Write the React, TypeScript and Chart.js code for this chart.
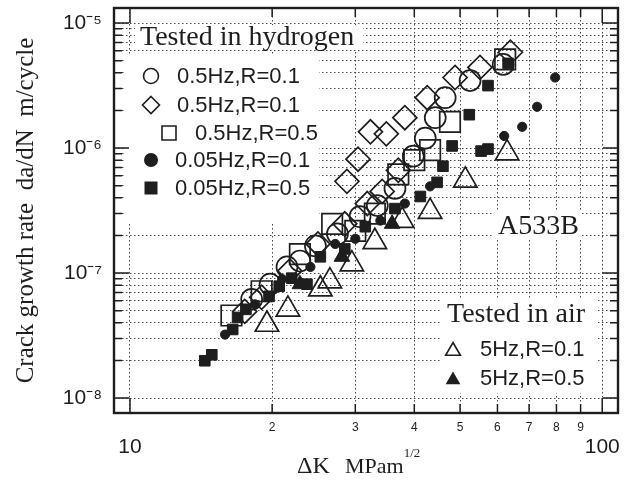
import React, { useEffect, useRef } from 'react';
import { Chart, registerables } from 'chart.js';

Chart.register(...registerables);

// ---------- data (ΔK in MPa·m^1/2, da/dN in m/cycle) ----------
// Tested in hydrogen
const h05R01CircleK = [18.1, 19.8, 21.5, 22.9, 24.7, 27.5, 30.7, 33.4, 36.4, 39.8, 42.2, 44.3, 46.5, 52.5, 61.7];
const h05R01CircleV = [6.17e-8, 8.15e-8, 1.12e-7, 1.25e-7, 1.65e-7, 2.06e-7, 2.83e-7, 3.47e-7, 4.76e-7, 8.62e-7, 1.2e-6, 1.75e-6, 2.53e-6, 3.47e-6, 4.67e-6];

const h05R01DiamondK = [17.5, 19.0, 21.8, 25.0, 28.5, 28.8, 30.4, 31.8, 32.3, 34.2, 34.9, 37.0, 38.2, 42.6, 48.8, 55.1, 63.9];
const h05R01DiamondV = [4.94e-8, 6.41e-8, 1.04e-7, 1.71e-7, 2.48e-7, 5.42e-7, 8.15e-7, 3.6e-7, 1.35e-6, 4.5e-7, 1.3e-6, 6.65e-7, 1.75e-6, 2.53e-6, 3.67e-6, 4.42e-6, 5.84e-6];

const h05R05SquareK = [16.4, 19.0, 22.9, 26.8, 30.0, 33.0, 37.0, 40.0, 43.2, 47.6, 62.3];
const h05R05SquareV = [4.58e-8, 7.16e-8, 1.42e-7, 2.48e-7, 2.18e-7, 2.99e-7, 6.17e-7, 8.0e-7, 9.63e-7, 1.62e-6, 5.12e-6];

const h005R01DotK = [15.9, 18.4, 21.0, 24.1, 27.2, 30.0, 33.9, 38.2, 43.2, 62.0, 67.7, 72.8, 79.5];
const h005R01DotV = [3.22e-8, 5.62e-8, 8.95e-8, 1.12e-7, 1.71e-7, 1.88e-7, 2.63e-7, 3.6e-7, 4.94e-7, 1.25e-6, 1.48e-6, 2.14e-6, 3.67e-6];

const h005R05BlockK = [14.4, 14.9, 16.5, 16.9, 17.6, 19.7, 20.7, 22.0, 23.7, 25.3, 28.5, 31.5, 36.4, 41.2, 44.7, 46.0, 48.1, 52.3, 55.4, 57.3, 57.3, 63.2];
const h005R05BlockV = [1.99e-8, 2.22e-8, 3.54e-8, 4.42e-8, 5.13e-8, 6.52e-8, 7.86e-8, 9.11e-8, 8.15e-8, 1.35e-7, 1.56e-7, 2.35e-7, 3.28e-7, 4.1e-7, 5.32e-7, 7.16e-7, 1.04e-6, 1.85e-6, 9.46e-7, 9.82e-7, 3.16e-6, 4.76e-6];

// Tested in air
const air5R01K = [19.5, 21.6, 25.3, 26.5, 29.5, 33.0, 37.7, 43.2, 51.3, 62.9];
const air5R01V = [3.88e-8, 5.13e-8, 7.43e-8, 8.62e-8, 1.18e-7, 1.78e-7, 2.63e-7, 3.1e-7, 5.52e-7, 9.11e-7];

const air5R05K = [22.9, 28.1, 35.9];
const air5R05V = [8.15e-8, 1.35e-7, 2.48e-7];

// ---------- axes ----------
const xMin = 9.25;
const xMax = 108;
const yMin = 7.6e-9;
const yMax = 1.32e-5;
const xGridValues = [10, 20, 30, 40, 50, 60, 70, 80, 90, 100];
const xTickLabels = ['10', '2', '3', '4', '5', '6', '7', '8', '9', '100'];
const xMajor = [true, false, false, false, false, false, false, false, false, true];
const yDecades = [1e-8, 1e-7, 1e-6];
const yTopDecade = 1e-5;
const yMultipliers = [1, 2, 3, 4, 5, 6, 7, 8, 9];
const yDecadeLabels = ['10⁻⁸', '10⁻⁷', '10⁻⁶', '10⁻⁵'];

const legendHydrogen = ['0.5Hz,R=0.1', '0.5Hz,R=0.1', '0.5Hz,R=0.5', '0.05Hz,R=0.1', '0.05Hz,R=0.5'];
const legendAir = ['5Hz,R=0.1', '5Hz,R=0.5'];

const INK = '#1e1e1e';
const SERIF = '"Liberation Serif", "Times New Roman", serif';
const SANS = '"Liberation Sans", Arial, sans-serif';

const zip = (xs: number[], ys: number[]) => xs.map((x, i) => ({ x, y: ys[i] }));

const yTickObjs: { value: number; major: boolean; label: string }[] = [];
yDecades.forEach((d, di) => {
  yMultipliers.forEach((m) => {
    yTickObjs.push({ value: m * d, major: m === 1, label: m === 1 ? yDecadeLabels[di] : '' });
  });
});
yTickObjs.push({ value: yTopDecade, major: true, label: yDecadeLabels[3] });

function mark(ctx: CanvasRenderingContext2D, style: string, x: number, y: number, r: number, filled: boolean) {
  ctx.beginPath();
  if (style === 'circle') {
    ctx.arc(x, y, r, 0, Math.PI * 2);
  } else if (style === 'diamond') {
    ctx.moveTo(x, y - r);
    ctx.lineTo(x + r, y);
    ctx.lineTo(x, y + r);
    ctx.lineTo(x - r, y);
    ctx.closePath();
  } else if (style === 'square') {
    ctx.rect(x - r, y - r, 2 * r, 2 * r);
  } else if (style === 'triangle') {
    ctx.moveTo(x, y - r);
    ctx.lineTo(x + r * 0.866, y + r * 0.5);
    ctx.lineTo(x - r * 0.866, y + r * 0.5);
    ctx.closePath();
  }
  if (filled) ctx.fill();
  else ctx.stroke();
}

const noPad = (scale: any) => {
  scale.paddingTop = 0;
  scale.paddingBottom = 0;
  scale.paddingLeft = 0;
  scale.paddingRight = 0;
};

const decorPlugin = {
  id: 'decor',
  beforeDatasetsDraw(chart: any) {
    const ctx: CanvasRenderingContext2D = chart.ctx;
    ctx.save();
    // white legend / label backgrounds over the grid
    ctx.fillStyle = '#ffffff';
    ctx.fillRect(135, 25, 228, 25);
    ctx.fillRect(124, 55, 195, 168);
    ctx.fillRect(440, 300, 158, 93);
    ctx.fillRect(494, 211, 88, 27);

    ctx.fillStyle = INK;
    ctx.strokeStyle = INK;
    ctx.lineWidth = 1.6;

    ctx.textBaseline = 'alphabetic';
    ctx.textAlign = 'left';
    ctx.font = `28px ${SERIF}`;
    ctx.fillText('Tested in hydrogen', 140, 45);
    ctx.fillText('Tested in air', 447, 322);
    ctx.fillText('A533B', 498, 234);

    ctx.textBaseline = 'middle';
    ctx.font = `22px ${SANS}`;
    const rowsY = [76, 105, 133, 160, 188];
    const symX = [151, 151, 169, 151, 151];
    const textX = [177, 177, 195, 175, 175];
    const styles = ['circle', 'diamond', 'square', 'circle', 'square'];
    const sizes = [7.5, 8.5, 7, 7, 6.5];
    const filled = [false, false, false, true, true];
    legendHydrogen.forEach((t, i) => {
      mark(ctx, styles[i], symX[i], rowsY[i], sizes[i], filled[i]);
      ctx.fillText(t, textX[i], rowsY[i] + 1);
    });
    const airY = [349, 378];
    legendAir.forEach((t, i) => {
      mark(ctx, 'triangle', 453, airY[i] + 2, 8.5, i === 1);
      ctx.fillText(t, 480, airY[i] + 1);
    });
    ctx.restore();
  },
  afterDatasetsDraw(chart: any) {
    const ctx: CanvasRenderingContext2D = chart.ctx;
    const { left, right, top, bottom } = chart.chartArea;
    const xs = chart.scales.x;
    const ys = chart.scales.y;
    ctx.save();
    ctx.strokeStyle = INK;
    // inward tick marks
    ctx.lineWidth = 1.5;
    xs.ticks.forEach((t: any, i: number) => {
      const px = xs.getPixelForValue(t.value);
      const len = xMajor[i] ? 15 : 9;
      ctx.beginPath();
      ctx.moveTo(px, bottom);
      ctx.lineTo(px, bottom - len);
      ctx.moveTo(px, top);
      ctx.lineTo(px, top + len);
      ctx.stroke();
    });
    ys.ticks.forEach((t: any) => {
      const py = ys.getPixelForValue(t.value);
      const len = t.major ? 15 : 8;
      ctx.beginPath();
      ctx.moveTo(left, py);
      ctx.lineTo(left + len, py);
      ctx.moveTo(right, py);
      ctx.lineTo(right - len, py);
      ctx.stroke();
    });
    // frame
    ctx.lineWidth = 2.4;
    ctx.strokeRect(left, top, right - left, bottom - top);

    // x-axis title with superscript
    ctx.fillStyle = INK;
    ctx.textAlign = 'left';
    ctx.textBaseline = 'alphabetic';
    ctx.font = `24px ${SERIF}`;
    ctx.fillText('ΔK', 297, 473);
    ctx.font = `22px ${SERIF}`;
    ctx.fillText('MPam', 345, 473);
    const w = ctx.measureText('MPam').width;
    ctx.font = `13px ${SERIF}`;
    ctx.fillText('1/2', 345 + w, 457);
    ctx.restore();
  },
};

export default function App() {
  const canvasRef = useRef<HTMLCanvasElement>(null);

  useEffect(() => {
    const canvas = canvasRef.current;
    if (!canvas) return;
    const openStyle = (pointStyle: string, r: number) => ({
      pointStyle,
      pointRadius: r,
      pointHoverRadius: r,
      borderColor: INK,
      backgroundColor: 'rgba(0,0,0,0)',
      pointBorderWidth: 1.7,
      borderWidth: 1.7,
      showLine: false,
    });
    const filledStyle = (pointStyle: string, r: number) => ({
      pointStyle,
      pointRadius: r,
      pointHoverRadius: r,
      borderColor: INK,
      backgroundColor: INK,
      pointBorderWidth: 1,
      borderWidth: 1,
      showLine: false,
    });

    const chart = new Chart(canvas, {
      type: 'scatter',
      data: {
        datasets: [
          { label: 'air 5Hz R=0.1', data: zip(air5R01K, air5R01V), ...openStyle('triangle', 13.5) },
          { label: 'H2 0.5Hz R=0.5', data: zip(h05R05SquareK, h05R05SquareV), ...openStyle('rect', 14.5) },
          { label: 'H2 0.5Hz R=0.1 (circle)', data: zip(h05R01CircleK, h05R01CircleV), ...openStyle('circle', 10.5) },
          { label: 'H2 0.5Hz R=0.1 (diamond)', data: zip(h05R01DiamondK, h05R01DiamondV), ...openStyle('rectRot', 12) },
          { label: 'H2 0.05Hz R=0.1', data: zip(h005R01DotK, h005R01DotV), ...filledStyle('circle', 4.6) },
          { label: 'H2 0.05Hz R=0.5', data: zip(h005R05BlockK, h005R05BlockV), ...filledStyle('rect', 7.5) },
          { label: 'air 5Hz R=0.5', data: zip(air5R05K, air5R05V), ...filledStyle('triangle', 9) },
        ] as any,
      },
      options: {
        responsive: false,
        animation: false,
        devicePixelRatio: 1,
        layout: { autoPadding: false, padding: { left: 0, right: 20, top: 8, bottom: 0 } },
        plugins: {
          legend: { display: false },
          tooltip: { enabled: false },
        },
        scales: {
          x: {
            type: 'logarithmic',
            min: xMin,
            max: xMax,
            afterBuildTicks: (scale: any) => {
              scale.ticks = xGridValues.map((v, i) => ({ value: v, major: xMajor[i] }));
            },
            afterFit: (scale: any) => {
              scale.height = 69;
              noPad(scale);
            },
            grid: { color: '#4a4a4a', lineWidth: 1, drawTicks: false },
            border: { display: false, dash: [1.5, 2.5] },
            ticks: {
              autoSkip: false,
              maxRotation: 0,
              minRotation: 0,
              padding: 7,
              color: INK,
              callback: (_v: any, i: number) => (xMajor[i] ? ['', xTickLabels[i]] : xTickLabels[i]),
              font: (c: any) =>
                xMajor[c.index]
                  ? { family: SANS, size: 21, lineHeight: 0.85 }
                  : { family: SANS, size: 12, lineHeight: 1.2 },
            },
          },
          y: {
            type: 'logarithmic',
            min: yMin,
            max: yMax,
            afterBuildTicks: (scale: any) => {
              scale.ticks = yTickObjs.map((t) => ({ value: t.value, major: t.major }));
            },
            afterFit: (scale: any) => {
              scale.width = 114;
              noPad(scale);
            },
            grid: { color: '#4a4a4a', lineWidth: 1, drawTicks: false },
            border: { display: false, dash: [1.5, 2.5] },
            ticks: {
              autoSkip: false,
              padding: 12,
              color: INK,
              font: { family: SANS, size: 21 },
              callback: (_v: any, i: number) => yTickObjs[i].label,
            },
            title: {
              display: true,
              text: 'Crack growth rate  da/dN  m/cycle',
              color: INK,
              font: { family: SERIF, size: 25 },
              padding: { top: 11, bottom: 0 },
            },
          },
        },
      },
      plugins: [decorPlugin],
    } as any);

    return () => chart.destroy();
  }, []);

  return (
    <div style={{ position: 'fixed', left: 0, top: 0, width: 638, height: 482, background: '#ffffff' }}>
      <canvas ref={canvasRef} width={638} height={482} style={{ width: 638, height: 482, display: 'block' }} />
    </div>
  );
}
